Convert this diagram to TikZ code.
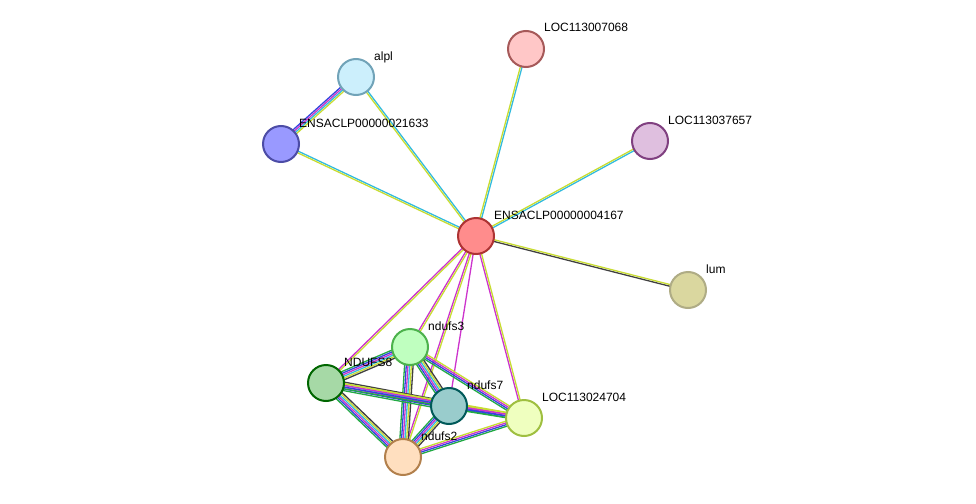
\documentclass[tikz,border=0pt]{standalone}
\usepackage{fontspec}
\setmainfont{Liberation Sans}
\usetikzlibrary{calc,backgrounds}
\definecolor{eC}{HTML}{33BBDD}
\definecolor{eY}{HTML}{C8DC32}
\definecolor{eM}{HTML}{CC33CC}
\definecolor{eB}{HTML}{3344DD}
\definecolor{eG}{HTML}{22AA44}
\definecolor{eK}{HTML}{404040}
\tikzset{
  prot/.style={circle, minimum size=36pt, inner sep=0pt, line width=2pt},
  plabel/.style={anchor=base west, font=\fontsize{12}{14}\selectfont, inner sep=0pt},
  link/.style={line width=1.3pt}
}
% multi-coloured edge: #3 = colour/offset list
\newcommand\stredge[3]{%
  \foreach \c/\o in {#3} {%
    \draw[link, \c] ($(#1)!\o*1.7pt!90:(#2)$) -- ($(#2)!\o*1.7pt!-90:(#1)$);
  }}
\begin{document}
\begin{tikzpicture}[x=1pt,y=-1pt]
  \useasboundingbox (0,0) rectangle (976,503);
  % proteins
  \node[prot, fill=red!45, draw=red!60!black!80] (center) at (476,236) {};
  \node[prot, fill=cyan!20, draw=cyan!40!gray] (alpl) at (356,77) {};
  \node[prot, fill=blue!40!white, draw=blue!50!black!70] (ens) at (281,144) {};
  \node[prot, fill=red!22, draw=red!30!gray] (loca) at (526,49) {};
  \node[prot, fill=violet!25, draw=violet!50!gray] (locb) at (650,141) {};
  \node[prot, fill=yellow!45!gray!60, draw=yellow!40!black!60] (lum) at (688,290) {};
  \node[prot, fill=green!25, draw=green!40!gray] (nd3) at (410,347) {};
  \node[prot, fill=green!40!gray!50, draw=green!40!black] (nd8) at (326,383) {};
  \node[prot, fill=teal!40, draw=teal!70!black] (nd7) at (449,406) {};
  \node[prot, fill=lime!25, draw=lime!50!gray] (locc) at (524,418) {};
  \node[prot, fill=orange!25, draw=orange!40!gray] (nd2) at (403,457) {};
  % labels
  \node[plabel] at (374,60) {alpl};
  \node[plabel] at (299,127) {ENSACLP00000021633};
  \node[plabel] at (544,32) {LOC113007068};
  \node[plabel] at (668,124) {LOC113037657};
  \node[plabel] at (494,219) {ENSACLP00000004167};
  \node[plabel] at (706,273) {lum};
  \node[plabel] at (428,330) {ndufs3};
  \node[plabel] at (344,366) {NDUFS8};
  \node[plabel] at (467,389) {ndufs7};
  \node[plabel] at (542,401) {LOC113024704};
  \node[plabel] at (421,440) {ndufs2};
  % edges
  \begin{scope}[on background layer]
    \stredge{center}{alpl}{eC/-0.5,eY/0.5}
    \stredge{center}{ens}{eC/-0.5,eY/0.5}
    \stredge{center}{loca}{eC/-0.5,eY/0.5}
    \stredge{center}{locb}{eC/-0.5,eY/0.5}
    \stredge{center}{lum}{eK/-0.5,eY/0.5}
    \stredge{center}{nd3}{eM/-0.5,eY/0.5}
    \stredge{center}{nd8}{eM/-0.5,eY/0.5}
    \stredge{center}{nd7}{eM/0}
    \stredge{center}{locc}{eM/-0.5,eY/0.5}
    \stredge{center}{nd2}{eM/-0.5,eY/0.5}
    \stredge{alpl}{ens}{eB/-1.5,eM/-0.5,eC/0.5,eY/1.5}
    \foreach \a/\b in {nd3/nd8,nd3/nd7,nd3/nd2,nd8/nd7,nd8/nd2,nd7/nd2} {
      \stredge{\a}{\b}{eG/-2.5,eB/-1.5,eM/-0.5,eC/0.5,eY/1.5,eK/2.5}
    }
    \foreach \a in {nd3,nd8,nd7,nd2} {
      \stredge{\a}{locc}{eG/-1.5,eB/-0.5,eM/0.5,eY/1.5}
    }
  \end{scope}
\end{tikzpicture}
\end{document}
